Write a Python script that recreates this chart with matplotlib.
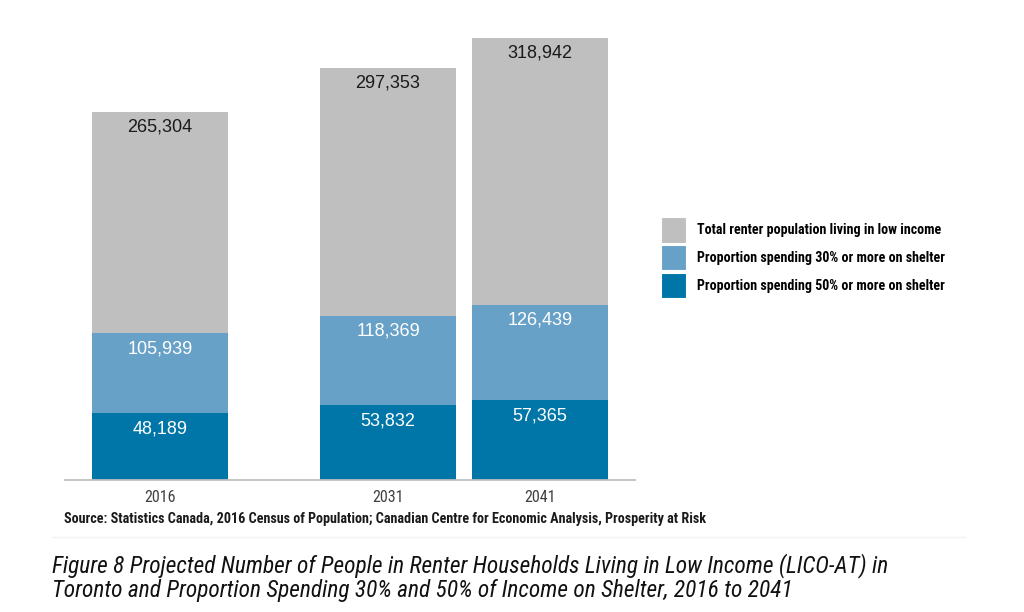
import matplotlib.pyplot as plt
from matplotlib.patches import Patch
from matplotlib.lines import Line2D

years = [2016, 2031, 2041]
total_low_income = [265304, 297353, 318942]
spending_30 = [105939, 118369, 126439]
spending_50 = [48189, 53832, 57365]

series_labels = ['Total renter population living in low income',
                 'Proportion spending 30% or more on shelter',
                 'Proportion spending 50% or more on shelter']
source_text = 'Source: Statistics Canada, 2016 Census of Population; Canadian Centre for Economic Analysis, Prosperity at Risk'
caption = ('Figure 8 Projected Number of People in Renter Households Living in Low Income (LICO-AT) in\n'
           'Toronto and Proportion Spending 30% and 50% of Income on Shelter, 2016 to 2041')

colors = ['#bfbfbf', '#68a1c8', '#0076a8']
label_colors = ['#1a1a1a', 'white', 'white']
narrow = ['Roboto Condensed', 'DejaVu Sans']

fig = plt.figure(figsize=(10.24, 6.12), dpi=100)
ax = fig.add_axes([65 / 1024, 132 / 612, 570 / 1024, 460 / 612])

# bars overlap, each drawn from zero
for vals, c, tc in zip([total_low_income, spending_30, spending_50], colors, label_colors):
    ax.bar(years, vals, width=9.0, color=c, zorder=2)
    for x, v in zip(years, vals):
        ax.annotate(f'{v:,}', (x, v), xytext=(0, -5), textcoords='offset points',
                    ha='center', va='top', fontsize=13, color=tc,
                    family='Liberation Sans', zorder=3)

ax.set_xlim(2009.75, 2047.25)
ax.set_ylim(0, 331650)
ax.set_xticks(years)
ax.set_xticklabels([str(y) for y in years], family=narrow, fontsize=11.5, color='#404040')
ax.set_yticks([])
for s in ['top', 'right', 'left']:
    ax.spines[s].set_visible(False)
ax.spines['bottom'].set_color('#bfbfbf')
ax.spines['bottom'].set_linewidth(1.3)
ax.tick_params(axis='x', length=0, pad=7)

handles = [Patch(facecolor=c, edgecolor='white', linewidth=0.8) for c in colors]
fig.legend(handles, series_labels, loc='upper left', bbox_to_anchor=(658 / 1024, 1 - 214 / 612),
           frameon=False, prop={'family': narrow, 'weight': 'bold', 'size': 10.1},
           handlelength=1.8, handleheight=2.45, labelspacing=0.15, handletextpad=0.8,
           borderpad=0.2, borderaxespad=0)

fig.text(64 / 1024, 1 - 519 / 612, source_text, family=narrow, fontweight='bold',
         fontsize=10.2, color='#1a1a1a', va='center')

fig.add_artist(Line2D([52 / 1024, 965 / 1024], [1 - 537 / 612] * 2, color='#f2f2f2', lw=1))

fig.text(52 / 1024, 1 - 553 / 612, caption, family=narrow, style='italic', fontsize=16.8,
         color='#111111', va='top', linespacing=1.08)

fig.savefig('out.png', dpi=100)
